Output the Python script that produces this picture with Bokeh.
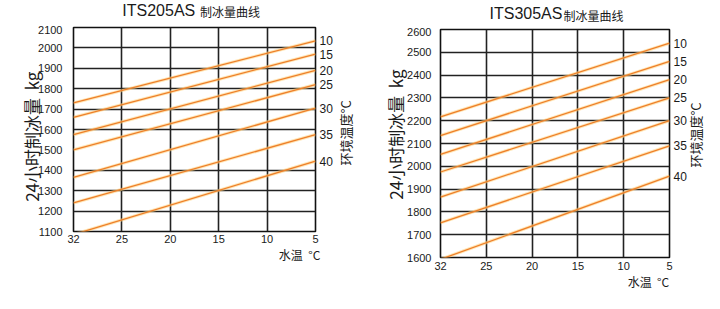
import math
from bokeh.plotting import figure
from bokeh.models import FixedTicker, Label, Range1d, LinearAxis
from bokeh.layouts import row, column
from bokeh.embed import file_html
from bokeh.resources import INLINE

# ---------------- data ----------------
water_temp_ticks = ["32", "25", "20", "15", "10", "5"]          # 水温 °C (equally spaced)
ambient_temps = [10, 15, 20, 25, 30, 35, 40]                    # 环境温度 °C

its205_at_32 = [1730, 1660, 1575, 1500, 1365, 1240, 1085]       # kg / 24h at water 32°C
its205_at_5 = [2035, 1970, 1890, 1820, 1705, 1575, 1445]        # kg / 24h at water 5°C
its205_yticks = [1100, 1200, 1300, 1400, 1500, 1600, 1700, 1800, 1900, 2000, 2100]
its205_ygrid = [1200, 1300, 1400, 1600, 1700, 1800, 1900, 2000]

its305_at_32 = [2217, 2135, 2052, 1975, 1865, 1752, 1592]
its305_at_5 = [2540, 2460, 2380, 2300, 2200, 2090, 1957]
its305_yticks = [1600, 1700, 1800, 1900, 2000, 2100, 2200, 2300, 2400, 2500, 2600]
its305_ygrid = [1700, 1800, 1900, 2000, 2100, 2200, 2300, 2400, 2500]

LATIN = "Liberation Sans"
CJK = "Noto Sans CJK SC"
LINE_COLOR = "#ee7f2a"
GRID_COLOR = "#222222"
TEXT_COLOR = "#1a1a1a"


def make_header(model, width, height, frame, pos):
    fl, fr = frame
    h = figure(width=width, height=height, x_range=Range1d(fl, fr), y_range=Range1d(0, height),
               output_backend="svg", toolbar_location=None,
               x_axis_location=None, y_axis_location=None,
               min_border_left=fl, min_border_right=width - fr,
               min_border_top=0, min_border_bottom=0)
    h.grid.visible = False
    h.outline_line_color = None
    h.add_layout(Label(x=pos["t1"][0], y=height - pos["t1"][1], text=model,
                       text_font=LATIN, text_font_size="16px", text_color=TEXT_COLOR,
                       text_baseline="middle", text_align="left"))
    h.add_layout(Label(x=pos["t2"][0], y=height - pos["t2"][1], text="制冰量曲线",
                       text_font=CJK, text_font_size="12px", text_color=TEXT_COLOR,
                       text_baseline="middle", text_align="left"))
    return h


def make_chart(yticks, ygrid, at32, at5, width, height, frame, pos):
    fl, fr, ft, fb = frame
    ymin, ymax = yticks[0], yticks[-1]
    nx = len(water_temp_ticks) - 1

    def dx(px):
        return (px - fl) / (fr - fl) * nx

    def dy(py):
        return ymax - (py - ft) / (fb - ft) * (ymax - ymin)

    p = figure(width=width, height=height, x_range=Range1d(0, nx), y_range=Range1d(ymin, ymax),
               output_backend="svg", toolbar_location=None,
               min_border_left=fl, min_border_right=width - fr,
               min_border_top=ft, min_border_bottom=height - fb)
    p.background_fill_color = "white"
    p.border_fill_color = "white"
    p.outline_line_color = "#111111"
    p.outline_line_width = 1.6

    def style(ax, font=LATIN, size="11px"):
        ax.axis_line_color = None
        ax.major_tick_line_color = None
        ax.minor_tick_line_color = None
        ax.major_tick_out = 0
        ax.major_tick_in = 0
        ax.minor_tick_out = 0
        ax.minor_tick_in = 0
        ax.major_label_text_font = font
        ax.major_label_text_font_size = size
        ax.major_label_text_color = TEXT_COLOR

    # x axis (water temperature)
    xax = p.xaxis[0]
    xax.ticker = FixedTicker(ticks=list(range(nx + 1)))
    xax.major_label_overrides = {i: t for i, t in enumerate(water_temp_ticks)}
    xax.major_label_standoff = pos["xstand"]
    style(xax)

    # y axis (ice production)
    yax = p.yaxis[0]
    yax.ticker = FixedTicker(ticks=yticks)
    yax.major_label_standoff = pos["ystand"]
    style(yax)

    # y axis title (rotated, text ends at the tick)
    yl = int(round(dy(pos["yl"])))
    ytitle = LinearAxis(ticker=FixedTicker(ticks=[yl]),
                        major_label_overrides={yl: "24小时制冰量\u00a0\u00a0kg"},
                        major_label_orientation=math.pi / 2,
                        major_label_standoff=pos["ylstand"])
    style(ytitle, font=CJK, size="17px")
    p.add_layout(ytitle, "left")

    # right axis: ambient temperature at the line ends
    rax = LinearAxis(ticker=FixedTicker(ticks=at5),
                     major_label_overrides={v: str(t) for v, t in zip(at5, ambient_temps)},
                     major_label_standoff=4)
    style(rax, size="12px")
    p.add_layout(rax, "right")

    # right axis title (rotated, text starts at the tick and runs upward)
    rl = int(round(dy(pos["rl"])))
    rtitle = LinearAxis(ticker=FixedTicker(ticks=[rl]),
                        major_label_overrides={rl: "环境温度°C"},
                        major_label_orientation=math.pi / 2,
                        major_label_standoff=pos["rlstand"])
    style(rtitle, font=CJK, size="13px")
    p.add_layout(rtitle, "right")

    # x axis title, placed toward the right end
    xl = round(dx(pos["xl"]), 3)
    xtitle = LinearAxis(ticker=FixedTicker(ticks=[xl]),
                        major_label_overrides={xl: "水温\u00a0\u00a0°C"},
                        major_label_standoff=pos["xlstand"])
    style(xtitle, font=CJK, size="12px")
    p.add_layout(xtitle, "below")

    # grid
    p.xgrid.ticker = FixedTicker(ticks=list(range(1, nx)))
    p.ygrid.ticker = FixedTicker(ticks=ygrid)
    for g in (p.xgrid[0], p.ygrid[0]):
        g.grid_line_color = GRID_COLOR
        g.grid_line_width = 1.6

    # lines
    for a, b in zip(at32, at5):
        p.line([0, nx], [a, b], line_color="#ffd27a", line_width=3.2, line_alpha=0.55)
        p.line([0, nx], [a, b], line_color=LINE_COLOR, line_width=1.3)
    return p


WL, WR = 367, 353

left_head = make_header("ITS205AS", WL, 25, (73, 316), {"t1": (122, 10), "t2": (200, 11)})
left_chart = make_chart(its205_yticks, its205_ygrid, its205_at_32, its205_at_5, WL, 284,
                        (73, 316, 2, 206),
                        {"xstand": 3, "ystand": 11, "yl": 46, "ylstand": 4,
                         "rl": 140, "rlstand": 10, "xl": 300, "xlstand": 0})
right_head = make_header("ITS305AS", WR, 27, (73, 302), {"t1": (122, 13), "t2": (196, 15)})
right_chart = make_chart(its305_yticks, its305_ygrid, its305_at_32, its305_at_5, WR, 282,
                         (73, 302, 2, 230),
                         {"xstand": 4, "ystand": 9, "yl": 42, "ylstand": 9,
                          "rl": 140, "rlstand": 6, "xl": 281, "xlstand": 0})

layout = row(column(left_head, left_chart, spacing=0), column(right_head, right_chart, spacing=0),
             spacing=0)
open("out.html", "w").write(file_html(layout, INLINE))
